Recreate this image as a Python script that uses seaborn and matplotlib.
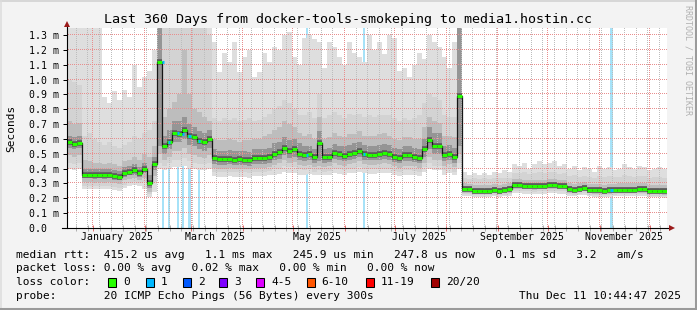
import matplotlib
matplotlib.use("Agg")
import math
import numpy as np
import matplotlib.pyplot as plt
import matplotlib.colors as mcolors
import seaborn as sns
import pandas as pd
from datetime import datetime, timedelta
from matplotlib.patches import Rectangle
from matplotlib.lines import Line2D

# ---------------- data (values in milliseconds, 3-day steps) ----------------
days = list(range(0, 360, 3))

median_ms = (
    [0.58, 0.565, 0.575]
    + [0.36, 0.36, 0.355, 0.36, 0.355, 0.36, 0.35, 0.345, 0.37, 0.38, 0.39, 0.37, 0.40, 0.30, 0.43]
    + [1.12, 0.55, 0.58, 0.64, 0.635, 0.66, 0.62, 0.61, 0.585, 0.58, 0.60]
    + [0.47, 0.462, 0.462, 0.465, 0.46, 0.462, 0.46, 0.455, 0.47, 0.47, 0.47, 0.475, 0.50, 0.51, 0.54, 0.52, 0.53, 0.50]
    + [0.49, 0.495, 0.475, 0.57, 0.475, 0.48, 0.505, 0.495, 0.488, 0.50,
       0.507, 0.52, 0.50, 0.492, 0.492, 0.50, 0.505, 0.50, 0.48, 0.47,
       0.49, 0.49, 0.48, 0.47, 0.53, 0.59, 0.555, 0.555, 0.49, 0.50,
       0.475, 0.89]
    + [0.26, 0.26, 0.252, 0.25, 0.25, 0.252, 0.255, 0.252, 0.255, 0.26,
       0.29, 0.29, 0.285, 0.285, 0.28, 0.285, 0.285, 0.29, 0.29, 0.285, 0.285,
       0.26, 0.256, 0.262, 0.27, 0.255, 0.254, 0.253, 0.252, 0.254, 0.255,
       0.258, 0.258, 0.258, 0.258, 0.26, 0.26, 0.25, 0.248, 0.25, 0.247]
)

smoke_top1 = (
    [1.40, 1.40, 1.40]
    + [1.40, 1.40, 1.40, 1.40, 0.88, 0.84, 0.92, 0.86, 0.93, 0.88, 1.10, 0.95, 1.02, 1.06, 1.20]
    + [1.40, 1.40, 1.40, 1.40, 1.40, 1.40, 1.40, 1.40, 1.40, 1.40, 1.40]
    + [1.25, 1.05, 1.18, 1.12, 1.25, 1.05, 1.15, 1.20, 1.02, 1.05, 1.18, 1.12, 1.22, 1.20, 1.30, 1.32, 1.15, 1.10]
    + [1.28, 1.30, 1.27, 1.25, 1.08, 1.25, 1.22, 1.15, 1.10, 1.25,
       1.18, 1.15, 1.12, 1.30, 1.20, 1.25, 1.17, 1.30, 1.28, 1.06,
       1.08, 1.02, 1.10, 1.18, 1.14, 1.30, 1.25, 1.22, 1.15, 1.08,
       1.25, 1.40]
    + [0.38, 0.36, 0.37, 0.36, 0.37, 0.36, 0.38, 0.37, 0.39, 0.38,
       0.43, 0.42, 0.44, 0.40, 0.43, 0.45, 0.43, 0.44, 0.45, 0.42, 0.43,
       0.40, 0.42, 0.39, 0.41, 0.40, 0.38, 0.42, 0.40, 0.41, 0.39,
       0.40, 0.43, 0.41, 0.40, 0.42, 0.41, 0.39, 0.40, 0.41, 0.40]
)

smoke_top2 = (
    [1.00, 0.98, 0.96]
    + [0.62, 0.64, 0.60, 0.58, 0.56, 0.58, 0.55, 0.54, 0.56, 0.58, 0.62, 0.60, 0.64, 0.66, 0.72]
    + [1.40, 1.40, 1.40, 1.40, 1.40, 1.40, 1.40, 1.40, 1.40, 1.40, 1.30]
    + [0.74, 0.72, 0.74, 0.73, 0.74, 0.72, 0.73, 0.74, 0.72, 0.73, 0.75, 0.77, 0.80, 0.82, 0.86, 0.84, 0.80, 0.76]
    + [0.76, 0.78, 0.74, 0.90, 0.74, 0.76, 0.78, 0.76, 0.74, 0.77,
       0.76, 0.77, 0.75, 0.76, 0.75, 0.76, 0.76, 0.76, 0.74, 0.72,
       0.74, 0.73, 0.74, 0.76, 0.84, 0.90, 0.88, 0.86, 0.76, 0.75,
       0.75, 1.40]
    + [0.34, 0.33, 0.335, 0.33, 0.335, 0.33, 0.34, 0.335, 0.34, 0.34,
       0.37, 0.37, 0.375, 0.365, 0.37, 0.38, 0.37, 0.375, 0.38, 0.365, 0.37,
       0.35, 0.355, 0.345, 0.35, 0.345, 0.34, 0.35, 0.345, 0.35, 0.345,
       0.345, 0.355, 0.35, 0.345, 0.35, 0.35, 0.34, 0.345, 0.345, 0.34]
)

smoke_top3 = (
    [0.72, 0.70, 0.71]
    + [0.46, 0.45, 0.44, 0.44, 0.43, 0.44, 0.43, 0.42, 0.45, 0.46, 0.48, 0.46, 0.50, 0.48, 0.55]
    + [1.40, 0.75, 0.80, 0.85, 0.90, 1.20, 0.90, 0.80, 0.78, 0.75, 0.72]
    + [0.60, 0.59, 0.59, 0.60, 0.59, 0.58, 0.59, 0.59, 0.60, 0.60, 0.62, 0.63, 0.66, 0.68, 0.72, 0.70, 0.68, 0.64]
    + [0.62, 0.63, 0.60, 0.75, 0.60, 0.61, 0.64, 0.62, 0.61, 0.63,
       0.63, 0.65, 0.62, 0.62, 0.62, 0.63, 0.64, 0.62, 0.60, 0.59,
       0.61, 0.61, 0.60, 0.60, 0.68, 0.75, 0.72, 0.71, 0.62, 0.62,
       0.61, 1.40]
    + [0.30, 0.295, 0.29, 0.29, 0.29, 0.29, 0.295, 0.29, 0.295, 0.30,
       0.33, 0.33, 0.325, 0.325, 0.32, 0.325, 0.325, 0.33, 0.33, 0.325, 0.325,
       0.30, 0.295, 0.30, 0.31, 0.295, 0.295, 0.295, 0.29, 0.295, 0.295,
       0.30, 0.30, 0.30, 0.30, 0.30, 0.30, 0.29, 0.29, 0.29, 0.29]
)

smoke_top4 = (
    [0.62, 0.61, 0.62]
    + [0.40, 0.40, 0.395, 0.40, 0.395, 0.40, 0.39, 0.385, 0.41, 0.42, 0.43, 0.41, 0.44, 0.36, 0.48]
    + [1.40, 0.62, 0.66, 0.72, 0.72, 0.75, 0.70, 0.68, 0.65, 0.64, 0.66]
    + [0.53, 0.52, 0.52, 0.525, 0.52, 0.52, 0.52, 0.515, 0.53, 0.53, 0.535, 0.54, 0.57, 0.58, 0.61, 0.59, 0.60, 0.57]
    + [0.55, 0.555, 0.535, 0.65, 0.535, 0.54, 0.565, 0.555, 0.55, 0.56,
       0.57, 0.58, 0.56, 0.555, 0.555, 0.56, 0.565, 0.56, 0.54, 0.53,
       0.55, 0.55, 0.54, 0.53, 0.60, 0.68, 0.64, 0.64, 0.55, 0.56,
       0.54, 1.40]
    + [0.28, 0.28, 0.272, 0.27, 0.27, 0.272, 0.275, 0.272, 0.275, 0.28,
       0.31, 0.31, 0.305, 0.305, 0.30, 0.305, 0.305, 0.31, 0.31, 0.305, 0.305,
       0.28, 0.276, 0.282, 0.29, 0.275, 0.274, 0.273, 0.272, 0.274, 0.275,
       0.278, 0.278, 0.278, 0.278, 0.28, 0.28, 0.27, 0.268, 0.27, 0.267]
)

smoke_low4 = (
    [0.54, 0.53, 0.54]
    + [0.335, 0.335, 0.33, 0.335, 0.33, 0.335, 0.325, 0.32, 0.345, 0.355, 0.36, 0.345, 0.37, 0.27, 0.39]
    + [0.55, 0.50, 0.53, 0.58, 0.58, 0.60, 0.56, 0.55, 0.53, 0.52, 0.54]
    + [0.43, 0.425, 0.425, 0.43, 0.425, 0.425, 0.425, 0.42, 0.43, 0.43, 0.43, 0.435, 0.455, 0.465, 0.49, 0.47, 0.48, 0.455]
    + [0.45, 0.455, 0.44, 0.45, 0.44, 0.445, 0.465, 0.455, 0.45, 0.46,
       0.465, 0.48, 0.46, 0.455, 0.455, 0.46, 0.465, 0.46, 0.445, 0.435,
       0.45, 0.45, 0.445, 0.435, 0.48, 0.53, 0.50, 0.50, 0.45, 0.46,
       0.44, 0.55]
    + [0.248, 0.248, 0.24, 0.238, 0.238, 0.24, 0.243, 0.24, 0.243, 0.248,
       0.278, 0.278, 0.273, 0.273, 0.268, 0.273, 0.273, 0.278, 0.278, 0.273, 0.273,
       0.248, 0.244, 0.25, 0.258, 0.243, 0.242, 0.241, 0.24, 0.242, 0.243,
       0.246, 0.246, 0.246, 0.246, 0.248, 0.248, 0.238, 0.236, 0.238, 0.235]
)

smoke_low3 = (
    [0.49, 0.48, 0.49]
    + [0.31, 0.31, 0.305, 0.31, 0.305, 0.31, 0.30, 0.295, 0.32, 0.33, 0.335, 0.32, 0.34, 0.245, 0.35]
    + [0.50, 0.46, 0.48, 0.52, 0.52, 0.54, 0.50, 0.49, 0.48, 0.47, 0.49]
    + [0.405, 0.40, 0.40, 0.405, 0.40, 0.40, 0.40, 0.395, 0.405, 0.405, 0.405, 0.41, 0.425, 0.435, 0.455, 0.44, 0.445, 0.425]
    + [0.42, 0.425, 0.41, 0.42, 0.41, 0.415, 0.435, 0.425, 0.42, 0.43,
       0.435, 0.45, 0.43, 0.425, 0.425, 0.43, 0.435, 0.43, 0.415, 0.405,
       0.42, 0.42, 0.415, 0.405, 0.44, 0.48, 0.46, 0.46, 0.42, 0.43,
       0.41, 0.50]
    + [0.238, 0.237, 0.232, 0.23, 0.23, 0.232, 0.234, 0.232, 0.234, 0.238,
       0.265, 0.265, 0.262, 0.262, 0.258, 0.262, 0.262, 0.265, 0.265, 0.262, 0.262,
       0.238, 0.234, 0.24, 0.246, 0.233, 0.232, 0.231, 0.23, 0.232, 0.233,
       0.236, 0.236, 0.236, 0.236, 0.238, 0.238, 0.228, 0.226, 0.228, 0.225]
)

smoke_low2 = (
    [0.44, 0.43, 0.44]
    + [0.285, 0.285, 0.28, 0.285, 0.28, 0.285, 0.275, 0.27, 0.29, 0.30, 0.31, 0.30, 0.31, 0.23, 0.31]
    + [0.44, 0.42, 0.44, 0.46, 0.46, 0.47, 0.45, 0.44, 0.43, 0.43, 0.44]
    + [0.38, 0.375, 0.375, 0.38, 0.375, 0.375, 0.375, 0.37, 0.38, 0.38, 0.38, 0.385, 0.395, 0.40, 0.42, 0.41, 0.41, 0.395]
    + [0.39, 0.395, 0.38, 0.39, 0.38, 0.385, 0.40, 0.395, 0.39, 0.40,
       0.40, 0.41, 0.40, 0.395, 0.395, 0.40, 0.40, 0.40, 0.385, 0.38,
       0.39, 0.39, 0.385, 0.38, 0.41, 0.44, 0.42, 0.42, 0.39, 0.40,
       0.38, 0.44]
    + [0.228, 0.226, 0.222, 0.22, 0.22, 0.222, 0.224, 0.222, 0.224, 0.228,
       0.25, 0.25, 0.248, 0.248, 0.245, 0.248, 0.248, 0.25, 0.25, 0.248, 0.248,
       0.228, 0.224, 0.23, 0.235, 0.223, 0.222, 0.221, 0.22, 0.222, 0.223,
       0.226, 0.226, 0.226, 0.226, 0.228, 0.228, 0.218, 0.216, 0.218, 0.215]
)

smoke_low1 = (
    [0.40, 0.39, 0.40]
    + [0.265, 0.265, 0.26, 0.265, 0.26, 0.265, 0.255, 0.25, 0.27, 0.28, 0.29, 0.28, 0.26, 0.21, 0.24]
    + [0.40, 0.39, 0.40, 0.41, 0.41, 0.42, 0.40, 0.40, 0.39, 0.39, 0.40]
    + [0.35, 0.345, 0.345, 0.35, 0.345, 0.345, 0.345, 0.34, 0.35, 0.35, 0.35, 0.355, 0.36, 0.365, 0.38, 0.37, 0.37, 0.36]
    + [0.36, 0.365, 0.355, 0.36, 0.355, 0.36, 0.37, 0.365, 0.36, 0.37,
       0.37, 0.375, 0.37, 0.365, 0.365, 0.37, 0.37, 0.37, 0.355, 0.35,
       0.36, 0.36, 0.355, 0.35, 0.38, 0.40, 0.39, 0.39, 0.36, 0.37,
       0.355, 0.40]
    + [0.218, 0.215, 0.212, 0.21, 0.21, 0.212, 0.214, 0.212, 0.214, 0.218,
       0.235, 0.235, 0.232, 0.232, 0.23, 0.232, 0.232, 0.235, 0.235, 0.232, 0.232,
       0.218, 0.214, 0.22, 0.225, 0.213, 0.212, 0.211, 0.21, 0.212, 0.213,
       0.216, 0.216, 0.216, 0.216, 0.218, 0.218, 0.208, 0.206, 0.208, 0.205]
)

# packet-loss events: start day and duration (days)
loss_day = [56.8, 60.4, 65.8, 68.8, 72.4, 78.4, 143.4, 177.4, 325.8]
loss_len = [1.1, 1.1, 1.1, 1.1, 2.0, 1.1, 1.1, 1.4, 1.6]

y_ticks = [0.0, 0.1, 0.2, 0.3, 0.4, 0.5, 0.6, 0.7, 0.8, 0.9, 1.0, 1.1, 1.2, 1.3]
y_tick_labels = ["0.0  ", "0.1 m", "0.2 m", "0.3 m", "0.4 m", "0.5 m", "0.6 m",
                 "0.7 m", "0.8 m", "0.9 m", "1.0 m", "1.1 m", "1.2 m", "1.3 m"]
month_labels = ["January 2025", "March 2025", "May 2025", "July 2025",
                "September 2025", "November 2025"]
title = "Last 360 Days from docker-tools-smokeping to media1.hostin.cc"
legend_lines = [
    "median rtt:  415.2 us avg   1.1 ms max   245.9 us min   247.8 us now   0.1 ms sd   3.2   am/s",
    "packet loss: 0.00 % avg   0.02 % max   0.00 % min   0.00 % now",
    "loss color:",
    "probe:       20 ICMP Echo Pings (56 Bytes) every 300s",
]
loss_color_labels = ["0", "1", "2", "3", "4-5", "6-10", "11-19", "20/20"]
loss_color_values = ["#26ff00", "#00b8ff", "#0059ff", "#7e00ff", "#dd00ff",
                     "#ff5500", "#ff0000", "#a00000"]
timestamp = "Thu Dec 11 10:44:47 2025"

for arr in [median_ms, smoke_top1, smoke_top2, smoke_top3, smoke_top4,
            smoke_low4, smoke_low3, smoke_low2, smoke_low1]:
    assert len(arr) == len(days), len(arr)

# ---------------- figure ----------------
W, H = 697, 310
AX_L, AX_B, AX_W, AX_H = 67, H - 228, 600, 200
plt.rcParams["font.family"] = ["DejaVu Sans Mono"]
fig = plt.figure(figsize=(W / 100, H / 100), dpi=100, facecolor="#f3f3f3")
ax = fig.add_axes([AX_L / W, AX_B / H, AX_W / W, AX_H / H])
ax.set_facecolor("white")
YMAX = 200 / 148.5
XMAX = 360
for s in ax.spines.values():
    s.set_visible(False)

STEP = 3
xe = days + [days[-1] + STEP]


def ext(a):
    return list(a) + [a[-1]]


# loss bars (behind smoke)
ax.bar(loss_day, [YMAX] * len(loss_day), width=loss_len, align="edge",
       color="#a6e2f8", lw=0, zorder=1.5)

# smoke bands
bands = [(smoke_low1, smoke_top1, "#dedede"),
         (smoke_low2, smoke_top2, "#d3d3d3"),
         (smoke_low3, smoke_top3, "#bdbdbd"),
         (smoke_low4, smoke_top4, "#959595")]
for lo, hi, c in bands:
    ax.fill_between(xe, ext(lo), ext(hi), step="post", color=c, lw=0, zorder=2)

# grid: pixel-exact dotted overlay (one image pixel = one screen pixel)
start = datetime(2024, 12, 16, 10, 44, 47)
month_days = []
for y, m in [(2025, mm) for mm in range(1, 13)]:
    month_days.append((datetime(y, m, 1) - start).total_seconds() / 86400)
week_days = []
d = datetime(2024, 12, 22)
while d < start + timedelta(days=360):
    week_days.append((d - start).total_seconds() / 86400)
    d += timedelta(days=7)

PX_X = XMAX / AX_W
PX_Y = YMAX / AX_H
MAJ = mcolors.to_rgba("#e88e8e")
MIN = mcolors.to_rgba("#bdbdbd")
grid_img = np.zeros((AX_H, AX_W, 4))
for wd in week_days:
    c = int(math.floor(wd / PX_X))
    if 0 <= c < AX_W:
        grid_img[1::2, c] = MIN
for md in month_days:
    c = int(math.floor(md / PX_X))
    if 0 <= c < AX_W:
        grid_img[1::2, c] = MAJ
for v in y_ticks[1:]:
    r = int(round(v / PX_Y))
    if 0 <= r < AX_H:
        grid_img[r, 1::2] = MAJ
ax.imshow(grid_img, origin="lower", extent=(0, XMAX, 0, YMAX), aspect="auto",
          interpolation="nearest", zorder=3)

# median: dark core, thin step line, green segments
ends = [x + STEP for x in days]
ax.hlines(median_ms, days, ends, colors="#5a5a5a", lw=4.0, zorder=4, capstyle="butt")
df = pd.DataFrame({"day": xe, "rtt": ext(median_ms)})
sns.lineplot(data=df, x="day", y="rtt", drawstyle="steps-post", color="#151515",
             lw=0.9, ax=ax, zorder=5, legend=False)
ax.hlines(median_ms, days, ends, colors="#26ff00", lw=2.2, zorder=6, capstyle="butt")
loss_med = [median_ms[int(ld // STEP)] for ld in loss_day]
ax.hlines(loss_med, loss_day, [a + b for a, b in zip(loss_day, loss_len)],
          colors="#00b8ff", lw=2.2, zorder=7, capstyle="butt")
ax.set_xlabel("")
ax.set_ylabel("")
ax.set_xlim(0, XMAX)
ax.set_ylim(0, YMAX)

# axes lines and arrows
ax.plot([0, 0], [0, 1.012], transform=ax.transAxes, color="black", lw=0.8,
        clip_on=False, zorder=8)
ax.plot([-0.0085, 1.003], [0, 0], transform=ax.transAxes, color="black", lw=0.8,
        clip_on=False, zorder=8)
ax.plot([0], [1.022], transform=ax.transAxes, marker="^", ms=4.5, color="#9b1b1b",
        clip_on=False, zorder=9, mew=0)
ax.plot([1.0075], [0], transform=ax.transAxes, marker=">", ms=4.5, color="#9b1b1b",
        clip_on=False, zorder=9, mew=0)

# ticks
ax.set_yticks(y_ticks)
ax.set_yticklabels(y_tick_labels, fontsize=7.1)
ax.tick_params(axis="y", length=3, width=0.72, color="black", pad=2.6, direction="out")
ax.set_xticks(month_days)
ax.set_xticklabels([])
ax.set_xticks(week_days, minor=True)
ax.tick_params(axis="x", which="major", length=4, width=0.72, color="#e07070",
               direction="inout")
ax.tick_params(axis="x", which="minor", length=4, width=0.72, color="#b0b0b0",
               direction="inout")
xform = ax.get_xaxis_transform()
for lbl, md in zip(month_labels, month_days[0::2]):
    ax.text(md + 14.45, -0.047, lbl, transform=xform, ha="center", va="center",
            fontsize=7.1)


def fx(x):
    return x / W


def fy(y):
    return 1 - y / H


fig.text(fx(347.5), fy(19.5), title, ha="center", va="center", fontsize=9.6)
fig.text(fx(11), fy(128), "Seconds", rotation=90, ha="center", va="center", fontsize=8)
fig.text(fx(688), fy(60), "RRDTOOL / TOBI OETIKER", rotation=270, ha="center",
         va="center", fontsize=6, color="#b0b0b0")

row_y = [254.5, 268.2, 282.2, 296.2]
for line, yy in zip(legend_lines, row_y):
    fig.text(fx(16), fy(yy), line, ha="left", va="center", fontsize=8.05)
fig.text(fx(681), fy(row_y[3]), timestamp, ha="right", va="center", fontsize=8.05)

box_x = [108.3, 145.7, 182.7, 219.3, 256.0, 306.7, 366.0, 430.7]
for bx, lab, col in zip(box_x, loss_color_labels, loss_color_values):
    fig.add_artist(Rectangle((fx(bx), fy(286.7)), 8 / W, 9 / H, transform=fig.transFigure,
                             facecolor=col, edgecolor="black", lw=0.75))
    fig.text(fx(bx + 15), fy(row_y[2]), lab, ha="left", va="center", fontsize=8.05)

# 3-D frame
fig.add_artist(Line2D([0, 1], [fy(0.75), fy(0.75)], transform=fig.transFigure,
                      color="#cfcfcf", lw=1.1))
fig.add_artist(Line2D([fx(0.75), fx(0.75)], [0, 1], transform=fig.transFigure,
                      color="#dcdcdc", lw=1.1))
fig.add_artist(Line2D([0, 1], [fy(H - 1.5), fy(H - 1.5)], transform=fig.transFigure,
                      color="#9a9a9a", lw=2.2))
fig.add_artist(Line2D([fx(W - 1.5), fx(W - 1.5)], [0, 1], transform=fig.transFigure,
                      color="#9a9a9a", lw=2.2))

fig.savefig("out.png", dpi=100, facecolor=fig.get_facecolor())
